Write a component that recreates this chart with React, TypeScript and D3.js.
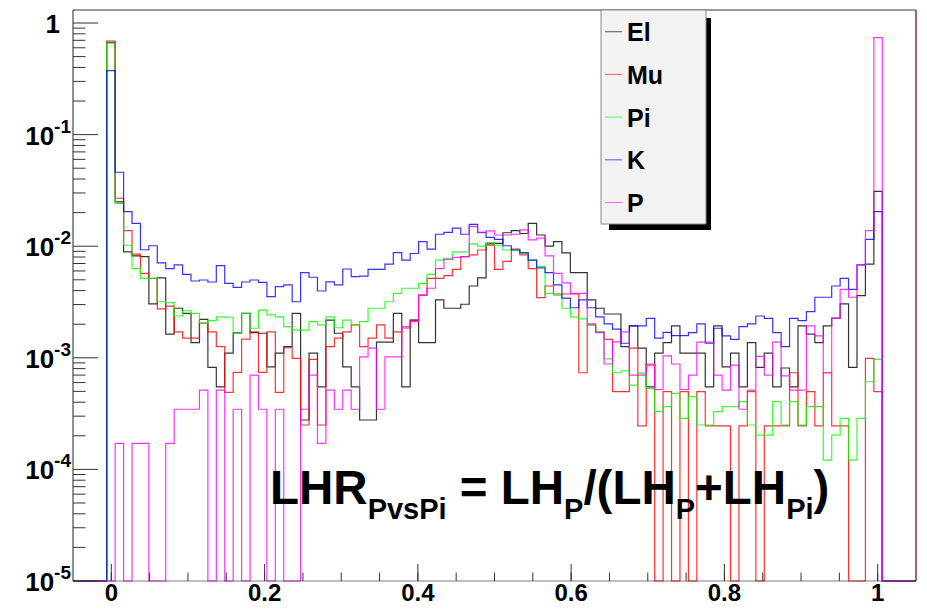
import React from "react";
import * as d3 from "d3";

// Histogram binning: 100 bins of width 0.011 starting at -0.05 (bin 4 is centred on x = 0)
const binLow = -0.05;
const binWidth = 0.011;
const nBins = 100;
const firstFilledBin = 4;

const seriesNames = ["El", "Mu", "Pi", "K", "P"];
const seriesColors = ["#000000", "#ff0000", "#00ff00", "#0000ff", "#ff00ff"];

// values of bins centred at 0, 0.011, 0.022, ... 1.001
const elValues = [
  0.67, 2.5e-2, 8.9e-3, 8.2e-3, 8.05e-3, 3.04e-3, 5.2e-3, 1.63e-3, 2.78e-3, 2.5e-3,
  1.37e-3, 2.21e-3, 8.2e-4, 5.5e-4, 1.1e-3, 1.67e-3, 2.5e-3, 1.68e-3, 1.66e-3, 8.3e-4,
  1.1e-3, 1.26e-3, 2.5e-3, 2.77e-4, 1.1e-3, 5.5e-4, 2.18e-3, 1.66e-3, 8.3e-4, 5.5e-4,
  2.77e-4, 2.77e-4, 1.38e-3, 1.38e-3, 2.5e-3, 5.5e-4, 2.18e-3, 1.37e-3, 1.37e-3, 3.3e-3,
  2.78e-3, 2.78e-3, 3.02e-3, 4.4e-3, 5.2e-3, 1.05e-2, 1.06e-2, 1.32e-2, 1.38e-2, 1.3e-2,
  1.6e-2, 1.26e-2, 1.0e-2, 1.1e-2, 8.7e-3, 5.8e-3, 5.8e-3, 3.3e-3, 2.78e-3, 2.47e-3,
  2.47e-3, 1.26e-3, 1.93e-3, 1.22e-3, 5.5e-4, 1.1e-3, 1.37e-3, 1.93e-3, 1.1e-3, 1.1e-3,
  1.1e-3, 5.5e-4, 1.93e-3, 8.3e-4, 1.1e-3, 5.5e-4, 1.37e-3, 8.2e-4, 1.1e-3, 5.5e-4,
  8.1e-4, 5.5e-4, 1.93e-3, 1.63e-3, 1.37e-3, 1.93e-3, 2.27e-3, 3.04e-3, 8.2e-4, 3.6e-3,
  6.9e-3, 3.1e-2,
];
const muValues = [
  0.69, 2.69e-2, 1.38e-2, 8.5e-3, 5.7e-3, 5.15e-3, 2.74e-3, 2.9e-3, 1.71e-3, 1.5e-3,
  1.5e-3, 2.04e-3, 1.71e-3, 1.26e-3, 4.9e-4, 7.4e-4, 1.47e-3, 1.71e-3, 7.4e-4, 1.71e-3,
  4.9e-4, 1.23e-3, 9.9e-4, 2.5e-4, 9.7e-4, 2.5e-4, 1.26e-3, 1.5e-3, 1.71e-3, 1.97e-3,
  1.26e-3, 1.5e-3, 1.97e-3, 1.5e-3, 1.71e-3, 1.85e-3, 2.18e-3, 3.65e-3, 5.15e-3, 5.15e-3,
  5.45e-3, 6.2e-3, 8.05e-3, 8.35e-3, 9.25e-3, 1.02e-2, 6.2e-3, 7.3e-3, 9.4e-3, 8.35e-3,
  6.3e-3, 3.46e-3, 4.4e-3, 3.73e-3, 3.73e-3, 3.73e-3, 7.35e-4, 1.97e-3, 1.71e-3, 1.46e-3,
  4.97e-4, 4.97e-4, 1.22e-3, 2.45e-4, 8.6e-4, 0, 4.97e-4, 0, 4.97e-4, 0,
  4.97e-4, 2.45e-4, 2.45e-4, 2.45e-4, 0, 2.45e-4, 4.97e-4, 0, 2.45e-4, 2.45e-4,
  2.45e-4, 7.35e-4, 2.45e-4, 4.97e-4, 2.45e-4, 7.35e-4, 2.45e-4, 2.45e-4, 0, 0,
  9.9e-4, 4.97e-4,
];
const piValues = [
  0.66, 2.42e-2, 1.02e-2, 6.3e-3, 5.15e-3, 5.15e-3, 3.18e-3, 3.12e-3, 2.37e-3, 2.64e-3,
  2.5e-3, 2.06e-3, 2.15e-3, 2.33e-3, 2.31e-3, 1.66e-3, 2.5e-3, 1.84e-3, 2.68e-3, 2.42e-3,
  2.33e-3, 1.9e-3, 1.77e-3, 1.77e-3, 2.11e-3, 1.97e-3, 2.33e-3, 1.86e-3, 2.18e-3, 1.97e-3,
  2.11e-3, 2.78e-3, 2.78e-3, 3.18e-3, 3.78e-3, 4.2e-3, 4.2e-3, 4.65e-3, 5.6e-3, 7.5e-3,
  7.8e-3, 8.9e-3, 8.9e-3, 1.05e-2, 1.0e-2, 1.08e-2, 1.02e-2, 9.25e-3, 9.25e-3, 8.6e-3,
  7.5e-3, 6.6e-3, 3.78e-3, 3.65e-3, 2.78e-3, 2.33e-3, 2.23e-3, 1.97e-3, 1.71e-3, 9.8e-4,
  7.35e-4, 7.65e-4, 5.7e-4, 7.3e-4, 5.33e-4, 3.29e-4, 3.65e-4, 4.8e-4, 2.87e-4, 4.48e-4,
  2.5e-4, 2.5e-4, 3.29e-4, 3.65e-4, 3.65e-4, 4.05e-4, 2.5e-4, 2.03e-4, 2.03e-4, 4.05e-4,
  2.5e-4, 4.05e-4, 2.5e-4, 3.65e-4, 3.65e-4, 1.21e-4, 2.03e-4, 2.87e-4, 1.21e-4, 2.87e-4,
  6.1e-4, 9.7e-4,
];
const kValues = [
  0.374, 4.6e-2, 2.04e-2, 1.6e-2, 9.3e-3, 1.01e-2, 7.1e-3, 6.3e-3, 6.8e-3, 5.6e-3,
  4.88e-3, 4.98e-3, 4.78e-3, 6.7e-3, 4.65e-3, 4.28e-3, 4.78e-3, 4.98e-3, 4.75e-3, 3.53e-3,
  4.34e-3, 4.5e-3, 3.18e-3, 5.8e-3, 5.27e-3, 3.97e-3, 4.8e-3, 4.5e-3, 6.25e-3, 5.33e-3,
  5.4e-3, 6.2e-3, 6.2e-3, 6.9e-3, 8.75e-3, 7.5e-3, 8.6e-3, 1.1e-2, 9.4e-3, 1.28e-2,
  1.33e-2, 1.45e-2, 1.28e-2, 1.57e-2, 1.33e-2, 1.2e-2, 1.15e-2, 1.01e-2, 9.25e-3, 8.75e-3,
  7.5e-3, 6.4e-3, 5.8e-3, 4.5e-3, 3.43e-3, 2.81e-3, 3.3e-3, 2.81e-3, 2.33e-3, 2.01e-3,
  1.81e-3, 1.35e-3, 1.93e-3, 1.93e-3, 2.26e-3, 1.5e-3, 1.69e-3, 1.58e-3, 1.58e-3, 1.68e-3,
  2.01e-3, 1.35e-3, 1.84e-3, 1.57e-3, 1.46e-3, 1.9e-3, 2.01e-3, 2.37e-3, 2.26e-3, 1.68e-3,
  1.26e-3, 2.26e-3, 2.15e-3, 2.59e-3, 3.49e-3, 3.49e-3, 4.4e-3, 5.15e-3, 4.11e-3, 6.8e-3,
  1.15e-2, 2.04e-2,
];
const pValues = [
  0, 1.71e-4, 0, 1.71e-4, 1.71e-4, 0, 0, 1.71e-4, 3.46e-4, 3.46e-4,
  3.46e-4, 5.14e-4, 0, 5.14e-4, 0, 3.46e-4, 0, 7.0e-4, 3.46e-4, 0,
  3.46e-4, 0, 0, 3.46e-4, 7.0e-4, 1.71e-4, 5.14e-4, 3.46e-4, 5.14e-4, 3.46e-4,
  1.02e-3, 1.22e-3, 3.46e-4, 1.02e-3, 1.02e-3, 1.9e-3, 2.11e-3, 3.65e-3, 4.2e-3, 6.3e-3,
  7.6e-3, 7.95e-3, 8.05e-3, 1.5e-2, 1.32e-2, 1.37e-2, 1.26e-2, 1.26e-2, 1.28e-2, 1.4e-2,
  1.14e-2, 1.18e-2, 8.2e-3, 5.7e-3, 4.7e-3, 3.78e-3, 3.78e-3, 2.01e-3, 1.68e-3, 8.8e-4,
  1.39e-3, 1.71e-3, 7.0e-4, 7.0e-4, 8.8e-4, 5.2e-4, 1.04e-3, 8.8e-4, 5.2e-4, 7.0e-4,
  1.38e-3, 1.38e-3, 7.0e-4, 5.14e-4, 8.6e-4, 3.46e-4, 5.14e-4, 1.03e-3, 7.0e-4, 1.38e-3,
  6.9e-4, 5.14e-4, 5.14e-4, 1.93e-3, 1.57e-3, 7.35e-4, 2.26e-3, 4.11e-3, 3.49e-3, 6.8e-3,
  1.38e-2, 0.74,
];

const xTickValues = [0, 0.2, 0.4, 0.6, 0.8, 1];
const xTickLabels = ["0", "0.2", "0.4", "0.6", "0.8", "1"];
const yDecadeExponents = [0, -1, -2, -3, -4, -5];

const formulaParts = [
  { t: "LHR", sub: false },
  { t: "PvsPi", sub: true },
  { t: " = LH", sub: false },
  { t: "P", sub: true },
  { t: "/(LH", sub: false },
  { t: "P", sub: true },
  { t: "+LH", sub: false },
  { t: "Pi", sub: true },
  { t: ")", sub: false },
];

const FONT = "'Liberation Sans', Arial, Helvetica, sans-serif";

export default function App() {
  const W = 927;
  const H = 613;
  const left = 73, right = 916, top = 10, bottom = 581;
  const yMin = 1e-5;
  const yMax = 1.308;

  const x = d3.scaleLinear().domain([binLow, binLow + nBins * binWidth]).range([left, right]);
  const y = d3.scaleLog().domain([yMin, yMax]).range([bottom, top]);

  const allSeries = [elValues, muValues, piValues, kValues, pValues];

  const line = d3
    .line<[number, number]>()
    .x((d) => x(d[0]))
    .y((d) => y(Math.max(d[1], yMin)))
    .curve(d3.curveStepAfter);

  const histPath = (vals: number[]) => {
    const full: number[] = new Array(nBins).fill(0);
    vals.forEach((v, j) => (full[firstFilledBin + j] = v));
    const pts: [number, number][] = full.map((v, k) => [binLow + k * binWidth, v]);
    pts.push([binLow + nBins * binWidth, full[nBins - 1]]);
    return line(pts) || "";
  };

  const yMajor = yDecadeExponents.map((e) => Math.pow(10, e));
  const yMinor: number[] = [];
  yDecadeExponents.forEach((e) => {
    if (e === 0) return;
    for (let m = 2; m <= 9; m++) yMinor.push(m * Math.pow(10, e));
  });
  const xMinor = d3
    .range(-1, 22)
    .map((i) => i * 0.05)
    .filter((v) => v > binLow + 1e-9 && v < binLow + nBins * binWidth - 1e-9);

  const legendX = 601, legendY = 10, legendW = 105, legendH = 214;
  const legendRow = 42.7;

  return (
    <svg
      width={W}
      height={H}
      style={{ position: "absolute", left: 0, top: 0, background: "#fff" }}
      fontFamily={FONT}
    >
      <defs>
        <clipPath id="frameClip">
          <rect x={left} y={top - 1} width={right - left} height={bottom - top + 2} />
        </clipPath>
      </defs>
      <rect x={0} y={0} width={W} height={H} fill="#fff" />

      {/* histograms */}
      <g clipPath="url(#frameClip)">
        {allSeries.map((vals, i) => (
          <path key={i} d={histPath(vals)} fill="none" stroke={seriesColors[i]} strokeWidth={1.2} strokeOpacity={0.8} />
        ))}
      </g>

      {/* frame */}
      <line x1={left} y1={top} x2={right} y2={top} stroke="#777" strokeWidth={1.5} />
      <line x1={left} y1={top} x2={left} y2={bottom} stroke="#222" strokeWidth={1} />
      <line x1={right} y1={top} x2={right} y2={bottom} stroke="#8a3030" strokeWidth={1.5} />
      <line x1={left} y1={bottom} x2={right} y2={bottom} stroke="#222" strokeWidth={0.6} />

      {/* y axis ticks */}
      {yMajor.map((v, i) => (
        <line key={"ym" + i} x1={left} x2={left + 25} y1={y(v)} y2={y(v)} stroke="#333" strokeWidth={1} />
      ))}
      {yMinor.map((v, i) => (
        <line key={"yn" + i} x1={left} x2={left + 12.5} y1={y(v)} y2={y(v)} stroke="#333" strokeWidth={1} />
      ))}
      {/* x axis ticks */}
      {xMinor.map((v, i) => (
        <line key={"xn" + i} x1={x(v)} x2={x(v)} y1={bottom} y2={bottom - 8.5} stroke="#333" strokeWidth={1} />
      ))}
      {xTickValues.map((v, i) => (
        <line key={"xm" + i} x1={x(v)} x2={x(v)} y1={bottom} y2={bottom - 17} stroke="#333" strokeWidth={1} />
      ))}

      {/* x labels */}
      {xTickValues.map((v, i) => (
        <text key={"xl" + i} x={x(v)} y={601} textAnchor="middle" fontSize={24} fontWeight="bold" fill="#000">
          {xTickLabels[i]}
        </text>
      ))}

      {/* y labels */}
      {yDecadeExponents.map((e, i) =>
        e === 0 ? (
          <text key={"yl" + i} x={60} y={y(1) + 10} textAnchor="end" fontSize={26} fontWeight="bold" fill="#000">
            1
          </text>
        ) : (
          <text key={"yl" + i} x={71} y={y(Math.pow(10, e)) + 10} textAnchor="end" fontSize={26} fontWeight="bold" fill="#000">
            10
            <tspan dy={-12} fontSize={19}>
              {String(e)}
            </tspan>
          </text>
        )
      )}

      {/* formula */}
      <text x={270} y={504} fontSize={47.5} fontWeight="bold" fill="#000" style={{ whiteSpace: "pre" }}>
        {formulaParts.map((p, i) => {
          const prevSub = i > 0 && formulaParts[i - 1].sub;
          const dy = p.sub ? 15 : prevSub ? -15 : 0;
          return (
            <tspan key={i} dy={dy} fontSize={p.sub ? 29 : 47.5}>
              {p.t}
            </tspan>
          );
        })}
      </text>

      {/* legend */}
      <rect x={legendX + 8} y={legendY + 8} width={legendW - 3} height={legendH - 2} fill="#000" />
      <rect x={legendX} y={legendY} width={legendW} height={legendH} fill="#f2f2f2" stroke="#888" strokeWidth={1} />
      {seriesNames.map((n, i) => {
        const cy = 31.7 + i * legendRow;
        return (
          <g key={"lg" + i}>
            <line x1={605} x2={622} y1={cy} y2={cy} stroke={seriesColors[i]} strokeWidth={1.1} strokeOpacity={0.6} />
            <text x={627} y={cy + 9.5} fontSize={25} fontWeight="bold" fill="#000">
              {n}
            </text>
          </g>
        );
      })}
    </svg>
  );
}
